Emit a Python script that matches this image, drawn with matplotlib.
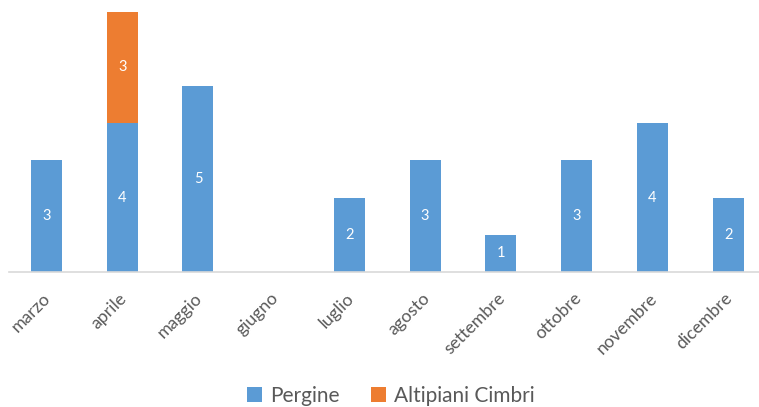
import numpy as np
import matplotlib.pyplot as plt

mesi = ['marzo', 'aprile', 'maggio', 'giugno', 'luglio', 'agosto',
        'settembre', 'ottobre', 'novembre', 'dicembre']
pergine = [3, 4, 5, 0, 2, 3, 1, 3, 4, 2]
altipiani = [0, 3, 0, 0, 0, 0, 0, 0, 0, 0]

blu = '#5B9BD5'
arancio = '#ED7D31'
grigio = '#595959'

plt.rcParams['font.family'] = ['Lato', 'DejaVu Sans']

W, H = 759, 407
fig = plt.figure(figsize=(W / 100, H / 100), dpi=100)
# plot area in pixel coords: left 8.6, right 766, baseline at y=272
ax = fig.add_axes([8.6 / W, (H - 272) / H, (766 - 8.6) / W, 272 / H])

x = np.arange(len(mesi))
b1 = ax.bar(x, pergine, width=0.41, color=blu, label='Pergine')
b2 = ax.bar(x, altipiani, width=0.41, bottom=pergine, color=arancio,
            label='Altipiani Cimbri')

for rects, vals, base in [(b1, pergine, [0] * len(x)), (b2, altipiani, pergine)]:
    for r, v, b in zip(rects, vals, base):
        if v > 0:
            ax.text(r.get_x() + r.get_width() / 2, b + v / 2, str(v),
                    ha='center', va='center', color='white', fontsize=10.5)

ax.set_xlim(-0.5, len(mesi) - 0.5)
ax.set_ylim(0, 7.31)
ax.set_yticks([])
ax.set_xticks(x - 0.05)
ax.set_xticklabels(mesi, rotation=45, ha='right', rotation_mode='anchor',
                   color=grigio, fontsize=12.7)
ax.tick_params(axis='x', length=0, pad=13)
for s in ['top', 'right', 'left']:
    ax.spines[s].set_visible(False)
ax.spines['bottom'].set_color('#D9D9D9')
ax.spines['bottom'].set_linewidth(1.2)

fig.legend(loc='center', bbox_to_anchor=(391 / W, 1 - 396 / H), ncol=2,
           frameon=False, fontsize=15, labelcolor=grigio,
           handlelength=0.7, handleheight=0.7, handletextpad=0.4,
           columnspacing=1.5)

fig.savefig('out.png', dpi=100)
